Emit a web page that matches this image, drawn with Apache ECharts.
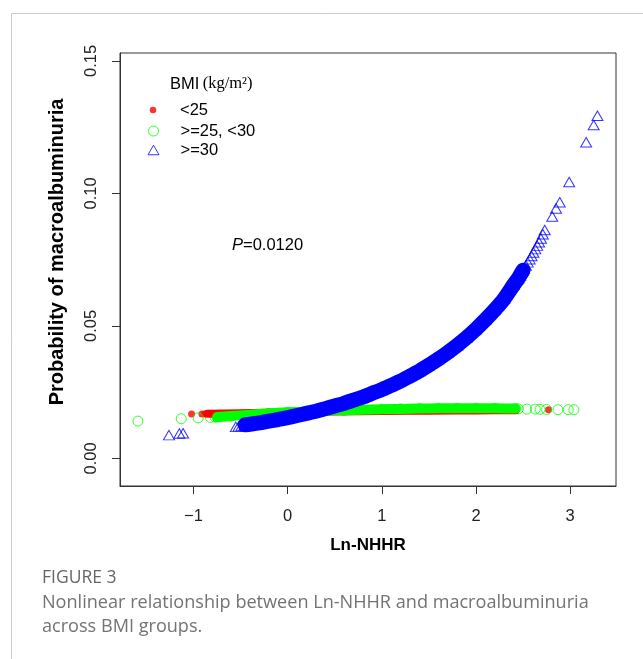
<!DOCTYPE html>
<html><head><meta charset="utf-8">
<script src="https://cdn.jsdelivr.net/npm/echarts@6/dist/echarts.min.js"></script>
<style>html,body{margin:0;padding:0;background:#fff;} #c{width:643px;height:659px;}</style>
</head><body><div id="c"></div>
<script>
// ---- tick labels ----
const xTicks = [-1, 0, 1, 2, 3];
const yTicks = [0, 0.05, 0.10, 0.15];
const legendNames = ['<25', '>=25, <30', '>=30'];

// ---- BMI < 25 (red filled dots) ----
const redDotX = [-1.02, -0.91, -0.88, 2.77];
const redDotY = [0.0168, 0.0168, 0.0168, 0.0184];
const redBandX = [-0.85, -0.5, 0, 0.5, 1.0, 1.5, 2.0, 2.42];
const redBandY = [0.0169, 0.0171, 0.0174, 0.0177, 0.0179, 0.0180, 0.0181, 0.0182];

// ---- BMI 25-30 (green open circles) ----
const greenCircX = [-1.59, -1.13, -0.95, -0.82, -0.77, -0.72, 2.45, 2.54, 2.63, 2.68, 2.75, 2.87, 2.98, 3.04];
const greenCircY = [0.0141, 0.0150, 0.0153, 0.0155, 0.0156, 0.0157, 0.0187, 0.0186, 0.0186, 0.0185, 0.0185, 0.0184, 0.0184, 0.0184];
const greenBandX = [-0.75, -0.6, -0.4, -0.2, 0, 0.2, 0.4, 0.6, 0.8, 1.0, 1.2, 1.4, 1.6, 1.8, 2.0, 2.2, 2.42];
const greenBandY = [0.0156, 0.0160, 0.0165, 0.0170, 0.0174, 0.0177, 0.0180, 0.0182, 0.0184, 0.0186, 0.0187, 0.0188, 0.0189, 0.0189, 0.0189, 0.0189, 0.0188];

// ---- BMI >= 30 (blue open triangles) ----
const blueTriX = [-1.26, -1.15, -1.11, -0.55, -0.52, -0.49, -0.46, -0.43,
  2.47, 2.49, 2.51, 2.53, 2.55, 2.57, 2.59, 2.61, 2.63, 2.65, 2.67, 2.69, 2.71, 2.73,
  2.81, 2.85, 2.89, 2.99, 3.17, 3.25, 3.29];
const blueTriY = [0.0088, 0.0094, 0.0095, 0.0119, 0.0121, 0.0122, 0.0124, 0.0126,
  0.0690, 0.0703, 0.0716, 0.0728, 0.0740, 0.0752, 0.0764, 0.0777, 0.0790, 0.0803, 0.0816, 0.0830, 0.0846, 0.0862,
  0.0913, 0.0943, 0.0967, 0.1043, 0.1193, 0.1258, 0.1293];
const blueBandX = [-0.45, -0.4, -0.3, -0.2, -0.1, 0.0, 0.1, 0.2, 0.3, 0.4, 0.5, 0.6, 0.7, 0.8, 0.9, 1.0, 1.1, 1.2, 1.3, 1.4, 1.5, 1.6, 1.7, 1.8, 1.9, 2.0, 2.1, 2.2, 2.3, 2.4, 2.45, 2.5];
const blueBandY = [0.0127, 0.0129, 0.0134, 0.0141, 0.0147, 0.0154, 0.0162, 0.0170, 0.0178, 0.0188, 0.0198, 0.0208, 0.0220, 0.0232, 0.0246, 0.0260, 0.0276, 0.0292, 0.0311, 0.0330, 0.0352, 0.0375, 0.0400, 0.0427, 0.0456, 0.0488, 0.0523, 0.0561, 0.0603, 0.0655, 0.0680, 0.0710];

const pairs = (xs, ys) => xs.map((x, i) => [x, ys[i]]);
const RED = '#FF0000', GREEN = '#00FF00', BLUE = '#0000FF';
const SANS = 'Liberation Sans, Arial, sans-serif';
const legendText = { fontSize: 16.5, fontFamily: SANS, color: '#000', lineHeight: 18 };

function band(name, xs, ys, color, w) {
  return { name: name, type: 'line', data: pairs(xs, ys), showSymbol: false, smooth: 0.2,
    lineStyle: { color: color, width: w, cap: 'round', join: 'round' }, silent: true, animation: false };
}

const chart = echarts.init(document.getElementById('c'), null, { renderer: 'canvas' });
chart.setOption({
  animation: false,
  backgroundColor: '#fff',
  grid: { left: 120, top: 53, right: 27, bottom: 173, show: true, borderColor: '#333', borderWidth: 1 },
  xAxis: {
    type: 'value', min: -1.78, max: 3.487,
    splitLine: { show: false },
    axisLine: { show: true, onZero: false, lineStyle: { color: '#333' } },
    axisTick: { show: true, length: 8, customValues: xTicks, lineStyle: { color: '#333' } },
    axisLabel: { customValues: xTicks, margin: 22, fontSize: 16.5, fontFamily: SANS, color: '#222',
      formatter: v => (v < 0 ? '\u2212' + Math.abs(v) : String(v)) },
    name: 'Ln-NHHR', nameLocation: 'middle', nameGap: 51,
    nameTextStyle: { fontSize: 17, fontWeight: 'bold', fontFamily: SANS, color: '#000' }
  },
  yAxis: {
    type: 'value', min: -0.0104, max: 0.1530,
    splitLine: { show: false },
    axisLine: { show: true, onZero: false, lineStyle: { color: '#333' } },
    axisTick: { show: true, length: 8, customValues: yTicks, lineStyle: { color: '#333' } },
    axisLabel: { customValues: yTicks, rotate: 90, margin: 20, fontSize: 16.5, fontFamily: SANS, color: '#222',
      formatter: v => v.toFixed(2) },
    name: 'Probability of macroalbuminuria', nameLocation: 'middle', nameRotate: 90, nameGap: 53,
    nameTextStyle: { fontSize: 20, fontWeight: 'bold', fontFamily: SANS, color: '#000', padding: [0, 0, 0, 35] }
  },
  legend: [
    { data: [legendNames[0]], left: 149.75, top: 101, padding: 0, itemWidth: 6.5, itemHeight: 6.5, selectedMode: false,
      itemStyle: { borderWidth: 0 }, textStyle: Object.assign({ padding: [0, 0, 0, 18.75] }, legendText) },
    { data: [legendNames[1]], left: 148, top: 122, padding: 0, itemWidth: 10, itemHeight: 10, selectedMode: false,
      itemStyle: { color: 'rgba(0,0,0,0)', borderColor: GREEN, borderWidth: 1 },
      textStyle: Object.assign({ padding: [0, 0, 0, 17] }, legendText) },
    { data: [legendNames[2]], left: 147.5, top: 141, padding: 0, itemWidth: 11, itemHeight: 9.5, selectedMode: false,
      itemStyle: { color: 'rgba(0,0,0,0)', borderColor: BLUE, borderWidth: 1 },
      textStyle: Object.assign({ padding: [0, 0, 0, 16.5] }, legendText) }
  ],
  series: [
    band('band<25', redBandX, redBandY, RED, 8),
    { name: legendNames[0], type: 'scatter', symbol: 'circle', symbolSize: 7,
      data: pairs(redDotX, redDotY).concat(pairs(redBandX, redBandY)),
      itemStyle: { color: RED }, emphasis: { disabled: true } },
    band('band25', greenBandX, greenBandY, GREEN, 10),
    { name: legendNames[1], type: 'scatter', symbol: 'circle', symbolSize: 10,
      data: pairs(greenCircX, greenCircY).concat(pairs(greenBandX, greenBandY)),
      itemStyle: { color: 'rgba(0,0,0,0)', borderColor: GREEN, borderWidth: 1 }, emphasis: { disabled: true } },
    band('band30', blueBandX, blueBandY, BLUE, 15),
    { name: legendNames[2], type: 'scatter', symbol: 'triangle', symbolSize: [11, 9.5],
      data: pairs(blueTriX, blueTriY).concat(pairs(blueBandX, blueBandY)),
      itemStyle: { color: 'rgba(0,0,0,0)', borderColor: BLUE, borderWidth: 1 }, emphasis: { disabled: true } }
  ],
  graphic: [
    { type: 'polyline', silent: true, shape: { points: [[11.5, 659], [11.5, 13.5], [643, 13.5]] },
      style: { stroke: '#cccccc', lineWidth: 1, fill: null } },
    { type: 'text', silent: true, style: { x: 170, y: 84, verticalAlign: 'middle',
      text: '{a|BMI} {b|(kg/m²)}',
      rich: { a: { fontFamily: SANS, fontSize: 16.5, fill: '#000' }, b: { fontFamily: 'Liberation Serif, serif', fontSize: 16.5, fill: '#000' } } } },
    { type: 'text', silent: true, style: { x: 232, y: 245, verticalAlign: 'middle',
      text: '{i|P}{n|=0.0120}',
      rich: { i: { fontFamily: SANS, fontStyle: 'italic', fontSize: 16.5, fill: '#000' }, n: { fontFamily: SANS, fontSize: 16.5, fill: '#000' } } } },
    { type: 'text', silent: true, style: { x: 42, y: 578, verticalAlign: 'middle', text: 'FIGURE 3',
      font: '17.5px "Open Sans", sans-serif', fill: '#666' } },
    { type: 'text', silent: true, style: { x: 42, y: 603, verticalAlign: 'middle',
      text: 'Nonlinear relationship between Ln-NHHR and macroalbuminuria',
      font: '18.1px "Open Sans", sans-serif', fill: '#737373' } },
    { type: 'text', silent: true, style: { x: 42, y: 627, verticalAlign: 'middle',
      text: 'across BMI groups.', font: '18.1px "Open Sans", sans-serif', fill: '#737373' } }
  ]
});
</script></body></html>
